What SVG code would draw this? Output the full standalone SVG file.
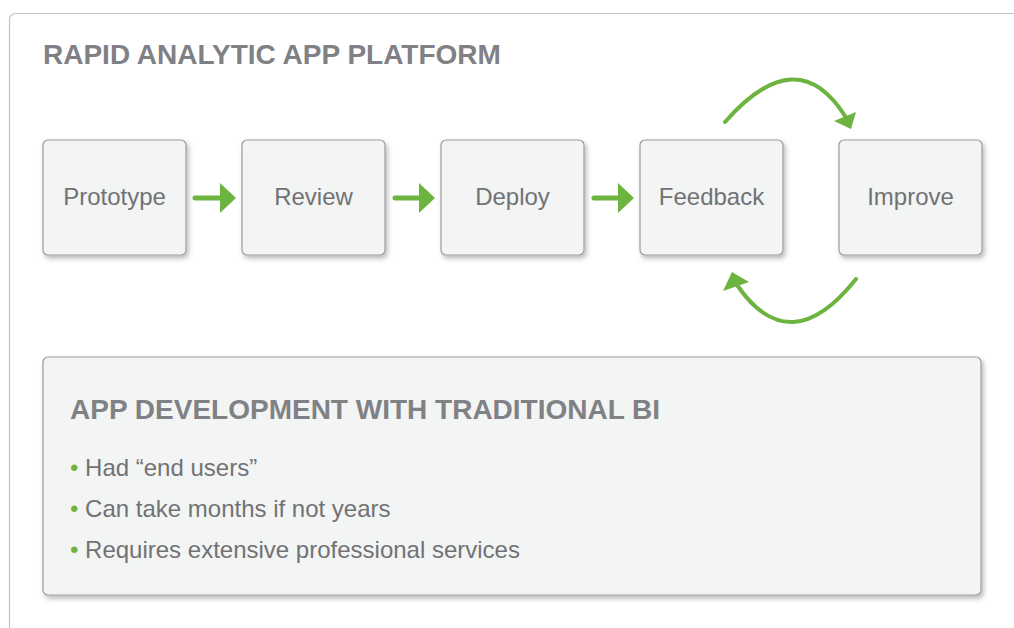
<svg xmlns="http://www.w3.org/2000/svg" width="1014" height="628" viewBox="0 0 1014 628">
  <defs>
    <filter id="sh" x="-10%" y="-10%" width="125%" height="130%">
      <feDropShadow dx="2" dy="3" stdDeviation="2.5" flood-color="#000" flood-opacity="0.28"/>
    </filter>
  </defs>
  <style>
    .box { fill: #f3f4f4; stroke: #9a9b9d; stroke-width: 1.2; filter: url(#sh); }
    .lbl { font-family: "Liberation Sans", Arial, sans-serif; font-size: 24px; fill: #717275; text-anchor: middle; }
    .hd { font-family: "Liberation Sans", Arial, sans-serif; font-weight: bold; fill: #808184; }
    .bul { font-family: "Liberation Sans", Arial, sans-serif; font-size: 24px; fill: #717275; }
    .dot { fill: #6db33f; }
    .shaft { stroke: #6db33f; stroke-width: 5; stroke-linecap: round; fill: none; }
    .curve { stroke: #6db33f; stroke-width: 4; stroke-linecap: round; fill: none; }
    .head { fill: #6db33f; }
  </style>
  <rect width="1014" height="628" fill="#ffffff"/>
  <rect id="frame" x="9.5" y="13.5" width="1040" height="650" rx="6" fill="#ffffff" stroke="#c2c3c5" stroke-width="1.2"/>
  <text id="title" class="hd" x="43" y="64" font-size="28">RAPID ANALYTIC APP PLATFORM</text>

  <g id="node-prototype">
    <rect class="box" x="43" y="140" width="143" height="115" rx="5"/>
    <text class="lbl" x="114.5" y="205">Prototype</text>
  </g>
  <g id="node-review">
    <rect class="box" x="242" y="140" width="143" height="115" rx="5"/>
    <text class="lbl" x="313.5" y="205">Review</text>
  </g>
  <g id="node-deploy">
    <rect class="box" x="441" y="140" width="143" height="115" rx="5"/>
    <text class="lbl" x="512.5" y="205">Deploy</text>
  </g>
  <g id="node-feedback">
    <rect class="box" x="640" y="140" width="143" height="115" rx="5"/>
    <text class="lbl" x="711.5" y="205">Feedback</text>
  </g>
  <g id="node-improve">
    <rect class="box" x="839" y="140" width="143" height="115" rx="5"/>
    <text class="lbl" x="910.5" y="205">Improve</text>
  </g>

  <g id="connectors">
    <line class="shaft" x1="195" y1="198" x2="222" y2="198"/>
    <polygon class="head" points="220,183 236,198 220,213"/>
    <line class="shaft" x1="395" y1="198" x2="421" y2="198"/>
    <polygon class="head" points="419,183 435,198 419,213"/>
    <line class="shaft" x1="594" y1="198" x2="620" y2="198"/>
    <polygon class="head" points="618,183 634,198 618,213"/>
    <path class="curve" d="M725,122 Q797,40 845,116"/>
    <polygon class="head" points="834,121 856,112 851,129"/>
    <path class="curve" d="M856,279 Q790,362 737,285"/>
    <polygon class="head" points="723,291 732,272 749,282"/>
  </g>

  <g id="node-traditional">
    <rect class="box" x="43" y="357" width="938" height="238" rx="5"/>
    <text class="hd" x="70" y="419" font-size="28">APP DEVELOPMENT WITH TRADITIONAL BI</text>
    <text class="bul" x="70" y="476"><tspan class="dot">•</tspan> Had “end users”</text>
    <text class="bul" x="70" y="517"><tspan class="dot">•</tspan> Can take months if not years</text>
    <text class="bul" x="70" y="558"><tspan class="dot">•</tspan> Requires extensive professional services</text>
  </g>
</svg>
